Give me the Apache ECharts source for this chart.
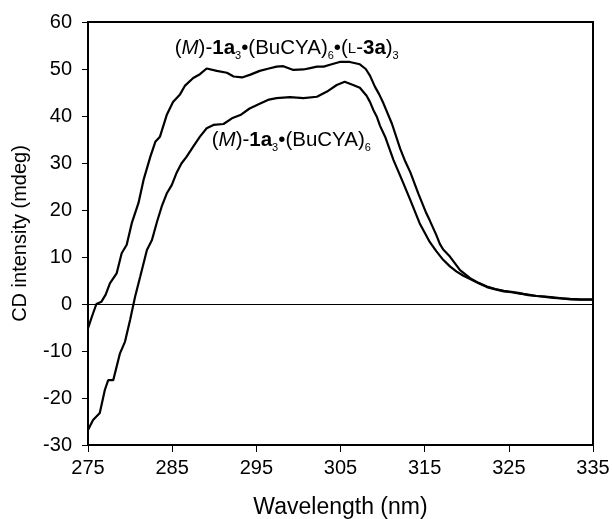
<!DOCTYPE html>
<html>
<head>
<meta charset="utf-8">
<script src="https://cdn.jsdelivr.net/npm/echarts@6/dist/echarts.min.js"></script>
<style>
  html, body { margin: 0; padding: 0; background: #fff; }
  #chart { width: 612px; height: 519px; }
</style>
</head>
<body>
<div id="chart"></div>
<script>
// CD spectrum of the assembly with the chiral guest (upper trace)
const wavelengthA = [275.0, 275.5, 276.0, 276.6, 277.1, 277.6, 278.4, 279.0, 279.6, 280.2, 281.0, 281.6, 282.4, 283.0, 283.55, 284.35, 285.1, 285.9, 286.5, 287.5, 288.3, 289.1, 290.3, 291.5, 292.3, 293.3, 294.3, 295.4, 296.5, 297.4, 298.2, 299.4, 300.6, 301.4, 302.2, 303.0, 303.75, 304.9, 306.1, 307.3, 308.0, 308.5, 309.1, 309.6, 310.1, 311.1, 312.1, 312.7, 313.3, 314.25, 315.2, 315.6, 316.4, 316.8, 317.2, 318.0, 319.2, 320.4, 321.4, 322.4, 323.4, 324.4, 325.3, 326.3, 327.3, 328.3, 329.3, 330.3, 331.3, 332.3, 333.5, 335.0];
const cdA = [-5.2, -2.5, 0.0, 0.5, 2.0, 4.4, 6.5, 10.8, 12.6, 17.2, 21.5, 26.4, 31.3, 34.5, 35.6, 40.2, 43.0, 44.5, 46.4, 48.1, 48.9, 50.1, 49.6, 49.2, 48.4, 48.2, 48.8, 49.6, 50.1, 50.5, 50.6, 49.8, 49.9, 50.2, 50.5, 50.5, 50.9, 51.5, 51.5, 51.0, 50.0, 48.6, 46.2, 44.6, 42.7, 38.4, 33.0, 30.3, 28.0, 23.5, 19.3, 17.8, 14.6, 12.8, 11.6, 10.1, 7.2, 5.5, 4.5, 3.7, 3.2, 2.8, 2.6, 2.3, 1.9, 1.7, 1.6, 1.4, 1.2, 1.1, 1.0, 1.0];

// CD spectrum of the assembly alone (lower trace)
const wavelengthB = [275.0, 275.6, 276.4, 277.0, 277.4, 278.0, 278.8, 279.4, 280.0, 280.6, 281.2, 282.0, 282.6, 283.2, 283.75, 284.35, 284.95, 285.5, 286.1, 286.7, 287.5, 288.3, 289.1, 289.9, 291.1, 292.1, 293.1, 294.2, 295.4, 296.5, 297.4, 299.0, 300.6, 302.2, 303.4, 304.55, 305.5, 306.5, 307.3, 308.1, 308.5, 308.9, 309.3, 309.7, 310.3, 311.3, 312.3, 313.3, 314.4, 315.6, 316.4, 317.2, 318.0, 318.8, 319.6, 320.4, 321.4, 322.4, 323.4, 324.4, 325.3, 326.3, 327.3, 328.3, 329.3, 330.3, 331.3, 332.3, 333.5, 335.0];
const cdB = [-26.8, -24.7, -23.2, -18.3, -16.2, -16.2, -10.5, -8.0, -3.4, 1.6, 5.8, 11.5, 13.6, 17.5, 20.7, 23.5, 25.3, 27.8, 29.9, 31.3, 33.5, 35.6, 37.4, 38.1, 38.3, 39.5, 40.2, 41.6, 42.6, 43.5, 43.8, 44.0, 43.8, 44.1, 45.2, 46.6, 47.3, 46.6, 46.0, 44.3, 43.0, 41.3, 39.9, 37.9, 35.6, 30.6, 26.4, 22.1, 17.2, 13.2, 11.2, 9.4, 8.0, 6.9, 6.0, 5.3, 4.4, 3.6, 3.1, 2.7, 2.5, 2.2, 2.0, 1.7, 1.5, 1.3, 1.2, 1.0, 0.9, 0.9];

// Axis ranges
const xRange = [275, 335];
const yRange = [-30, 60];

// Where each trace label is anchored, in data units (left edge, vertical middle)
const labelAnchorA = [285.3, 54.3];
const labelAnchorB = [289.7, 34.9];

const FONT = '"Liberation Sans", Arial, sans-serif';

const pairs = (xs, ys) => xs.map((x, i) => [x, ys[i]]);

const chart = echarts.init(document.getElementById('chart'), null, { renderer: 'canvas' });

const tickText = { color: '#000', fontSize: 20, fontFamily: FONT };

chart.setOption({
  animation: false,
  backgroundColor: '#fff',
  grid: {
    left: 88, right: 19, top: 22, bottom: 74,
    outerBoundsMode: 'none',
    containLabel: false,
    show: true, borderColor: '#000', borderWidth: 2, backgroundColor: 'transparent'
  },
  xAxis: {
    type: 'value',
    min: xRange[0], max: xRange[1], interval: 10,
    name: 'Wavelength (nm)',
    nameLocation: 'middle', nameGap: 51,
    nameTextStyle: { color: '#000', fontSize: 23, fontFamily: FONT },
    axisLine: { show: true, onZero: false, lineStyle: { color: '#000', width: 2 } },
    axisTick: { show: true, inside: false, length: 7, lineStyle: { color: '#000', width: 1 } },
    axisLabel: Object.assign({ margin: 13 }, tickText),
    splitLine: { show: false }
  },
  yAxis: {
    type: 'value',
    min: yRange[0], max: yRange[1], interval: 10,
    name: 'CD intensity (mdeg)',
    nameLocation: 'middle', nameGap: 58,
    nameTextStyle: { color: '#000', fontSize: 20, fontFamily: FONT },
    axisLine: { show: true, onZero: false, lineStyle: { color: '#000', width: 2 } },
    axisTick: { show: true, inside: false, length: 6, lineStyle: { color: '#000', width: 1 } },
    axisLabel: Object.assign({ margin: 16 }, tickText),
    splitLine: { show: false }
  },
  series: [
    {
      name: 'with guest',
      type: 'line',
      data: pairs(wavelengthA, cdA),
      showSymbol: false,
      smooth: false,
      lineStyle: { color: '#000', width: 2.2 },
      z: 3,
      markLine: {
        silent: true,
        symbol: 'none',
        label: { show: false },
        lineStyle: { color: '#000', width: 1, type: 'solid' },
        data: [{ yAxis: 0 }]
      }
    },
    {
      name: 'host only',
      type: 'line',
      data: pairs(wavelengthB, cdB),
      showSymbol: false,
      smooth: false,
      lineStyle: { color: '#000', width: 2.2 },
      z: 3
    }
  ]
});

// Rich-text styles for the chemical labels: italic M, bold compound numbers,
// subscripts and a small-capital L.
const rich = {
  p: { fontSize: 20.5, fontFamily: FONT, color: '#000', lineHeight: 26 },
  i: { fontSize: 20.5, fontFamily: FONT, fontStyle: 'italic', color: '#000', lineHeight: 26 },
  b: { fontSize: 20.5, fontFamily: FONT, fontWeight: 'bold', color: '#000', lineHeight: 26 },
  s: { fontSize: 11, fontFamily: FONT, color: '#000', lineHeight: 13, verticalAlign: 'bottom' },
  sc: { fontSize: 15, fontFamily: FONT, color: '#000', lineHeight: 26 }
};

const textA = '{p|(}{i|M}{p|)-}{b|1a}{s|3}{p|•(BuCYA)}{s|6}{p|•(}{sc|L}{p|-}{b|3a}{p|)}{s|3}';
const textB = '{p|(}{i|M}{p|)-}{b|1a}{s|3}{p|•(BuCYA)}{s|6}';

const pA = chart.convertToPixel({ gridIndex: 0 }, labelAnchorA);
const pB = chart.convertToPixel({ gridIndex: 0 }, labelAnchorB);

chart.setOption({
  graphic: [
    { type: 'text', x: pA[0], y: pA[1], z: 10,
      style: { text: textA, rich: rich, align: 'left', verticalAlign: 'middle' } },
    { type: 'text', x: pB[0], y: pB[1], z: 10,
      style: { text: textB, rich: rich, align: 'left', verticalAlign: 'middle' } }
  ]
});
</script>
</body>
</html>
